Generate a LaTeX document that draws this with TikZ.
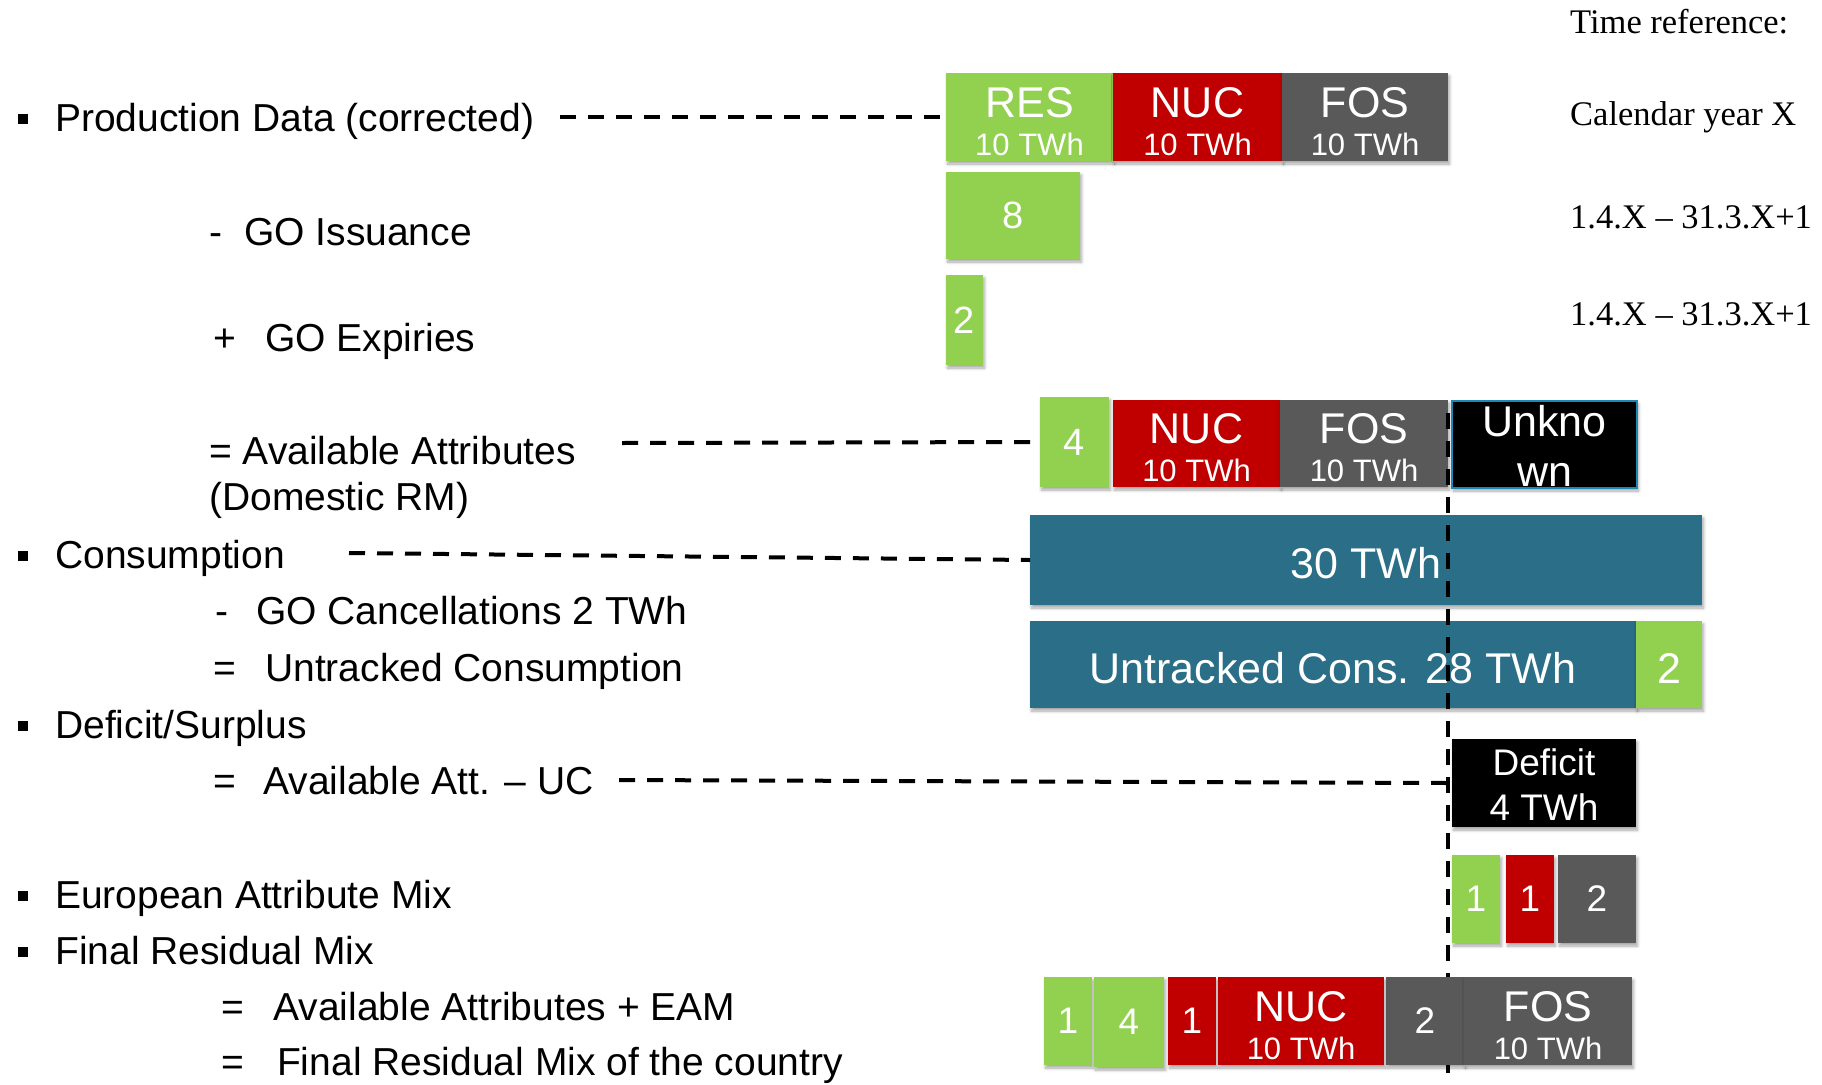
\documentclass[tikz,border=0pt]{standalone}
\usepackage{fontspec}
\setmainfont{Liberation Sans}
\newfontfamily\timesfam{Liberation Serif}
\usetikzlibrary{shadows.blur}

\definecolor{cgreen}{RGB}{146,208,80}
\definecolor{cred}{RGB}{192,0,0}
\definecolor{cgray}{RGB}{89,89,89}
\definecolor{cteal}{RGB}{42,110,136}
\definecolor{cedge}{RGB}{30,135,180}

\newcommand\txtleft{\fontsize{39}{47}\selectfont}
\newcommand\txtbig{\fontsize{43}{52}\selectfont}
\newcommand\txtsmall{\fontsize{31}{37}\selectfont}
\newcommand\txtdig{\fontsize{38}{46}\selectfont}
\newcommand\txtdef{\fontsize{37}{44}\selectfont}
\newcommand\txttime{\timesfam\fontsize{34.5}{41}\selectfont}

% box with a big label on top and an amount below
\newcommand\twotext[3]{%
  \node[bigtxt,anchor=base] at (#1.center) {#2};
  \node[smalltxt,anchor=base] at ([yshift=-38pt]#1.center) {#3};}

\tikzset{
  bx/.style={rectangle, inner sep=0pt, outer sep=0pt, anchor=north west,
    text=white, font=\txtdig,
    blur shadow={shadow xshift=1.5pt, shadow yshift=-3pt,
      shadow blur radius=3pt, shadow opacity=35, shadow blur steps=6}},
  lowtext/.style={text height=37pt, text depth=0pt},
  bigtxt/.style={inner sep=0pt, text=white, font=\txtbig},
  smalltxt/.style={inner sep=0pt, text=white, font=\txtsmall},
  lt/.style={anchor=base west, inner sep=0pt, font=\txtleft},
  tt/.style={anchor=base west, inner sep=0pt, font=\txttime},
  bul/.style={rectangle, fill=black, inner sep=0pt, minimum size=10pt},
  dl/.style={line width=4pt, dash pattern=on 16pt off 12pt},
}

\begin{document}
\begin{tikzpicture}[x=1pt, y=-1pt]
\useasboundingbox (0,0) rectangle (1822,1084);

% ---------- left column: calculation steps ----------
\node[bul] (b1) at (23,119) {};
\node[lt] (pd) at (55,131) {Production Data (corrected)};
\node[lt] (iss) at (209,245) {\makebox[35pt][l]{-}GO Issuance};
\node[lt] (exq) at (213,351) {\makebox[52pt][l]{+}GO Expiries};
\node[lt] (av1) at (209,464) {= Available Attributes};
\node[lt] (av2) at (209,510) {(Domestic RM)};
\node[bul] (b2) at (23,556) {};
\node[lt] (cn) at (55,568) {Consumption};
\node[lt] (gc) at (215,624) {\makebox[41pt][l]{-}GO Cancellations 2 TWh};
\node[lt] (uc) at (213,681) {\makebox[52pt][l]{=}Untracked Consumption};
\node[bul] (b3) at (23,726) {};
\node[lt] (ds) at (55,738) {Deficit/Surplus};
\node[lt] (aa) at (213,794) {\makebox[50pt][l]{=}Available Att. – UC};
\node[bul] (b4) at (23,896) {};
\node[lt] (eam) at (55,908) {European Attribute Mix};
\node[bul] (b5) at (23,952) {};
\node[lt] (frm) at (55,964) {Final Residual Mix};
\node[lt] (fr1) at (221,1020) {\makebox[52pt][l]{=}Available Attributes + EAM};
\node[lt] (fr2) at (221,1075) {\makebox[56pt][l]{=}Final Residual Mix of the country};

% ---------- right column: time reference ----------
\node[tt] (t0) at (1570,33) {Time reference:};
\node[tt] (t1) at (1570,125) {Calendar year X};
\node[tt] (t2) at (1570,228) {1.4.X – 31.3.X+1};
\node[tt] (t3) at (1570,325) {1.4.X – 31.3.X+1};

% ---------- production ----------
\node[bx, fill=cgreen, minimum width=167pt, minimum height=88pt] (res) at (946,73) {};
\node[bx, fill=cred,   minimum width=169pt, minimum height=88pt] (nuca) at (1113,73) {};
\node[bx, fill=cgray,  minimum width=166pt, minimum height=88pt] (fosa) at (1282,73) {};
\twotext{res}{RES}{10 TWh}
\twotext{nuca}{NUC}{10 TWh}
\twotext{fosa}{FOS}{10 TWh}

% ---------- issuance and expiries ----------
\node[bx, fill=cgreen, minimum width=134pt, minimum height=87pt] (iss8) at (946,172) {8};
\node[bx, fill=cgreen, minimum width=37pt, minimum height=90pt] (exp2) at (946,275) {2};

% ---------- available attributes ----------
\node[bx, fill=cgreen, minimum width=69pt, minimum height=90pt] (av4) at (1040,397) {4};
\node[bx, fill=cred,   minimum width=167pt, minimum height=87pt] (nucb) at (1113,400) {};
\node[bx, fill=cgray,  minimum width=168pt, minimum height=87pt] (fosb) at (1280,400) {};
\twotext{nucb}{NUC}{10 TWh}
\twotext{fosb}{FOS}{10 TWh}
\node[bx, fill=black, draw=cedge, line width=2.5pt, minimum width=185pt, minimum height=87pt] (unk) at (1452,401) {};
\node[bigtxt, anchor=base] at ([yshift=8pt]unk.center) {Unkno};
\node[bigtxt, anchor=base] at ([yshift=-42pt]unk.center) {wn};

% ---------- consumption ----------
\node[bx, fill=cteal, minimum width=672pt, minimum height=90pt, font=\txtbig, lowtext] (cons) at (1030,515) {30 TWh};
\node[bx, fill=cteal, minimum width=606pt, minimum height=87pt, font=\txtbig, lowtext] (untr) at (1030,621) {Untracked Cons. 28 TWh};
\node[bx, fill=cgreen, minimum width=66pt, minimum height=87pt, font=\txtbig, lowtext] (canc) at (1636,621) {2};

% ---------- deficit and European attribute mix ----------
\node[bx, fill=black, minimum width=184pt, minimum height=88pt] (def) at (1452,739) {};
\node[inner sep=0pt, text=white, font=\txtdef, anchor=base] at ([yshift=8pt]def.center) {Deficit};
\node[inner sep=0pt, text=white, font=\txtdef, anchor=base] at ([yshift=-37pt]def.center) {4 TWh};
\node[bx, fill=cgreen, minimum width=48pt, minimum height=88pt, font=\txtdef] (ea1) at (1452,855) {1};
\node[bx, fill=cred,   minimum width=48pt, minimum height=88pt, font=\txtdef] (ea2) at (1506,855) {1};
\node[bx, fill=cgray,  minimum width=78pt, minimum height=88pt, font=\txtdef] (ea3) at (1558,855) {2};

% ---------- dashed guide lines ----------
\coordinate (vt) at (1448,413);
\coordinate (vb) at (1448,1084);
\coordinate (pds) at (560,117);
\coordinate (avs) at (622,443);
\coordinate (cns) at (349,553);
\coordinate (dfs) at (619,780);
\draw[dl] (pds) -- (res.west);
\draw[dl] (avs) -- ([xshift=-4pt]av4.west);
\draw[dl] (cns) -- (cons.west);
\draw[dl] (dfs) -- (vt |- 0,783);
\draw[dl] (vt) -- (vb);

% ---------- final residual mix ----------
\node[bx, fill=cgreen, minimum width=48pt, minimum height=88pt, font=\txtdef] (fr1b) at (1044,977) {1};
\node[bx, fill=cgreen, minimum width=70pt, minimum height=90pt, font=\txtdef] (fr4b) at (1094,977) {4};
\node[bx, fill=cred,   minimum width=48pt, minimum height=88pt, font=\txtdef] (fr1r) at (1168,977) {1};
\node[bx, fill=cred,   minimum width=166pt, minimum height=88pt] (nucc) at (1218,977) {};
\node[bx, fill=cgray,  minimum width=78pt, minimum height=88pt, font=\txtdef] (fr2g) at (1386,977) {2};
\node[bx, fill=cgray,  minimum width=168pt, minimum height=88pt] (fosc) at (1464,977) {};
\twotext{nucc}{NUC}{10 TWh}
\twotext{fosc}{FOS}{10 TWh}
\end{tikzpicture}
\end{document}
